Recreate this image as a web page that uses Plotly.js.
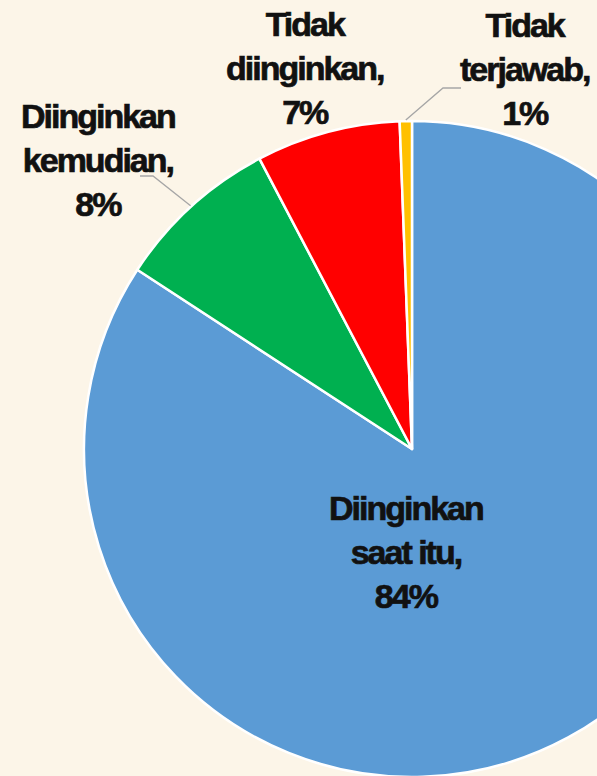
<!DOCTYPE html>
<html>
<head>
<meta charset="utf-8">
<script src="https://cdn.plot.ly/plotly-3.0.1.min.js"></script>
<style>
  html, body { margin: 0; padding: 0; background: #FCF5E8; overflow: hidden; }
  #plot { position: absolute; left: 0; top: 0; }
  /* tight, heavy labels like the original */
  .annotation-text { letter-spacing: -2px; stroke: #111111; stroke-width: 0.7px; }
</style>
</head>
<body>
<div id="plot"></div>
<script>
// slice data, clockwise from 12 o'clock
let labels = ["Diinginkan<br>saat itu", "Diinginkan<br>kemudian", "Tidak<br>diinginkan", "Tidak<br>terjawab"];
let values = [84.2, 8.1, 7.1, 0.6];
let colors = ["#5B9BD5", "#00B050", "#FF0000", "#FFC000"];

// figure is bigger than the window so the pie gets cut off on the right/bottom
let W = 824, H = 898;
let cx = 412, cy = 449, R = 328;

// label centres (pixels) and which slices get a leader line
let labelPos = [[406, 552], [98, 160], [305, 68], [525, 69]];
let elbows = [null, [[140, 176], [153, 176]], null, [[461, 88], [443, 88]]];

let px = x => x / W;
let py = y => 1 - y / H;

let trace = {
    type: "pie",
    values: values,
    labels: labels,
    sort: false,
    direction: "clockwise",
    rotation: 0,
    textinfo: "none",
    hoverinfo: "none",
    marker: { colors: colors, line: { color: "#FFFFFF", width: 2.5 } },
    domain: { x: [(cx - R) / W, (cx + R) / W], y: [py(cy + R), py(cy - R)] },
    showlegend: false
};

let total = values.reduce((a, b) => a + b, 0);
let annotations = [];
let shapes = [];
let cum = 0;
values.forEach((v, i) => {
    let mid = (cum + v / 2) / total * 2 * Math.PI;   // clockwise from north
    cum += v;
    annotations.push({
        xref: "paper", yref: "paper",
        x: px(labelPos[i][0]), y: py(labelPos[i][1]),
        xanchor: "center", yanchor: "middle",
        text: labels[i] + ",<br>" + Math.round(v) + "%",
        showarrow: false,
        font: { family: "Arial", size: 34, weight: 700, color: "#111111" }
    });
    if (elbows[i]) {
        let ex = cx + (R + 1) * Math.sin(mid);
        let ey = cy - (R + 1) * Math.cos(mid);
        let pts = elbows[i].concat([[ex, ey]]);
        let d = pts.map((p, k) => (k ? "L" : "M") + px(p[0]) + "," + py(p[1])).join(" ");
        shapes.push({ type: "path", xref: "paper", yref: "paper", path: d,
            line: { color: "#A6A6A6", width: 1.3 } });
    }
});

let layout = {
    width: W,
    height: H,
    margin: { l: 0, r: 0, t: 0, b: 0 },
    paper_bgcolor: "#FCF5E8",
    plot_bgcolor: "#FCF5E8",
    annotations: annotations,
    shapes: shapes
};

Plotly.newPlot("plot", [trace], layout, { staticPlot: true });
</script>
</body>
</html>
